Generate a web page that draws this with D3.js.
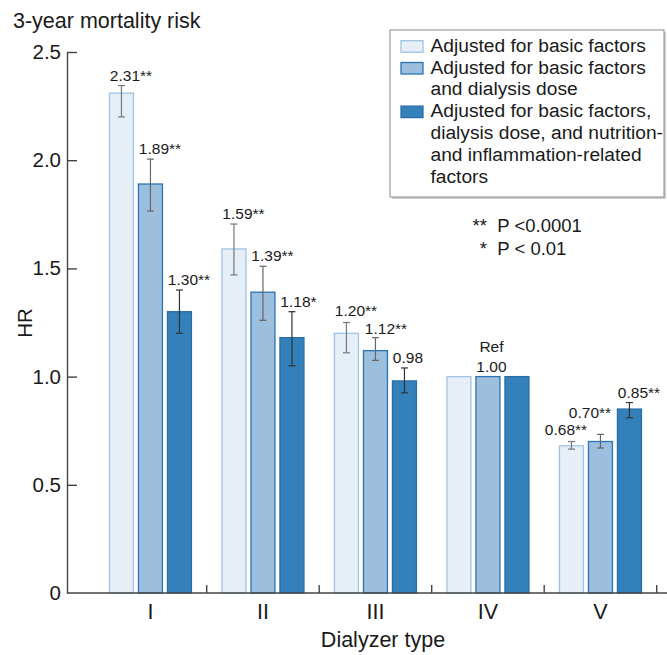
<!DOCTYPE html>
<html>
<head>
<meta charset="utf-8">
<script src="https://cdn.jsdelivr.net/npm/d3@7"></script>
<style>
  html, body { margin: 0; padding: 0; background: #fff; }
  svg { display: block; font-family: "Liberation Sans", Arial, sans-serif; }
  .axis path, .axis line { stroke: #444; stroke-width: 1.4; }
  .axis text { font-size: 20.5px; fill: #1a1a1a; }
  .axis .xl { font-size: 21.5px; }
</style>
</head>
<body>
<svg id="chart" width="667" height="655"></svg>
<script>
// ---------- data ----------
const dialyzerTypes = ["I", "II", "III", "IV", "V"];
const seriesNames = ["basic", "dose", "full"];
const legendLines = [
  ["Adjusted for basic factors"],
  ["Adjusted for basic factors", "and dialysis dose"],
  ["Adjusted for basic factors,", "dialysis dose, and nutrition-", "and inflammation-related", "factors"]
];
// hazard ratios per series, in dialyzer order
const hrBasic = [2.31, 1.59, 1.20, 1.00, 0.68];
const hrDose  = [1.89, 1.39, 1.12, 1.00, 0.70];
const hrFull  = [1.30, 1.18, 0.98, 1.00, 0.85];
// 95% CI bounds (IV is reference, no CI)
const ciLowBasic  = [2.20, 1.47, 1.11, null, 0.665];
const ciHighBasic = [2.345, 1.705, 1.25, null, 0.70];
const ciLowDose   = [1.765, 1.26, 1.075, null, 0.67];
const ciHighDose  = [2.005, 1.51, 1.18, null, 0.733];
const ciLowFull   = [1.20, 1.05, 0.925, null, 0.81];
const ciHighFull  = [1.40, 1.30, 1.04, null, 0.88];
// significance stars
const sigBasic = ["**", "**", "**", "", "**"];
const sigDose  = ["**", "**", "**", "", "**"];
const sigFull  = ["**", "*", "", "", "**"];
const yTicks = [0, 0.5, 1.0, 1.5, 2.0, 2.5];

// ---------- layout ----------
const W = 667, H = 655;
const svg = d3.select("#chart");

const x = d3.scaleBand().domain(dialyzerTypes).range([94.2, 656.7]).padding(0);
const y = d3.scaleLinear().domain([0, 2.5]).range([593, 52]);
const axisX = 67;

const BAR_W = 24, BAR_STEP = 29;
const LABEL_SIZE = 15.5;
const fills   = ["#e6eef7", "#9bbfdd", "#3380bb"];
const strokes = ["#9fc4e4", "#2c74b3", "#2a6ea8"];
const errCol  = ["#777", "#666", "#333"];

const hr  = [hrBasic, hrDose, hrFull];
const lo  = [ciLowBasic, ciLowDose, ciLowFull];
const hi  = [ciHighBasic, ciHighDose, ciHighFull];
const sig = [sigBasic, sigDose, sigFull];

const rows = [];
dialyzerTypes.forEach((t, i) => {
  seriesNames.forEach((s, j) => {
    rows.push({ type: t, i, j, v: hr[j][i], lo: lo[j][i], hi: hi[j][i], sig: sig[j][i] });
  });
});
const cx = (d) => x(d.type) + x.bandwidth() / 2 + (d.j - 1) * BAR_STEP;

// ---------- bars ----------
svg.append("g").selectAll("rect")
  .data(rows).enter().append("rect")
  .attr("x", (d) => cx(d) - BAR_W / 2)
  .attr("width", BAR_W)
  .attr("y", (d) => y(d.v))
  .attr("height", (d) => y(0) - y(d.v))
  .attr("fill", (d) => fills[d.j])
  .attr("stroke", (d) => strokes[d.j])
  .attr("stroke-width", 1.3);

// ---------- error bars ----------
const eb = svg.append("g").selectAll("g")
  .data(rows.filter((d) => d.lo != null)).enter().append("g")
  .attr("stroke", (d) => errCol[d.j])
  .attr("stroke-width", 1.2);
eb.append("line").attr("x1", cx).attr("x2", cx)
  .attr("y1", (d) => y(d.hi)).attr("y2", (d) => y(d.lo));
eb.append("line").attr("x1", (d) => cx(d) - 3.5).attr("x2", (d) => cx(d) + 3.5)
  .attr("y1", (d) => y(d.hi)).attr("y2", (d) => y(d.hi));
eb.append("line").attr("x1", (d) => cx(d) - 3.5).attr("x2", (d) => cx(d) + 3.5)
  .attr("y1", (d) => y(d.lo)).attr("y2", (d) => y(d.lo));

// ---------- value labels ----------
// small nudges so the crowded labels do not overlap
const nudge = { "III-0": [0, -2], "III-1": [1, 1], "V-0": [-15, -1.5], "V-1": [-20, -11] };
const labelRows = rows.filter((d) => d.type !== "IV");
const lab = svg.append("g").selectAll("g")
  .data(labelRows).enter().append("g")
  .attr("transform", (d) => {
    const n = nudge[d.type + "-" + d.j] || [0, 0];
    return `translate(${cx(d) + 3.5 + n[0]},${y(d.hi) - 5 + n[1]})`;
  });
lab.append("text")
  .attr("class", "num")
  .attr("text-anchor", "middle")
  .attr("font-size", LABEL_SIZE)
  .attr("fill", "#1a1a1a")
  .text((d) => d.v.toFixed(2));
lab.append("text")
  .attr("font-size", LABEL_SIZE)
  .attr("fill", "#1a1a1a")
  .attr("x", function () {
    return this.parentNode.querySelector(".num").getComputedTextLength() / 2;
  })
  .text((d) => d.sig);

// reference group label
const refX = x("IV") + x.bandwidth() / 2 + 3.5;
svg.append("text").attr("x", refX).attr("y", y(1) - 5)
  .attr("text-anchor", "middle").attr("font-size", LABEL_SIZE).attr("fill", "#1a1a1a")
  .text((1).toFixed(2));
svg.append("text").attr("x", refX).attr("y", y(1) - 25)
  .attr("text-anchor", "middle").attr("font-size", LABEL_SIZE).attr("fill", "#1a1a1a")
  .text("Ref");

// ---------- axes ----------
svg.append("g")
  .attr("class", "axis")
  .attr("transform", `translate(${axisX},0)`)
  .call(d3.axisLeft(y).tickValues(yTicks).tickSize(-10).tickSizeOuter(0).tickPadding(6)
    .tickFormat((d) => d === 0 ? "0" : d3.format(".1f")(d)))
  .call((g) => g.selectAll(".tick").filter((d) => d === 0).select("line").remove());

const xg = svg.append("g").attr("class", "axis");
xg.append("line").attr("x1", axisX).attr("x2", W).attr("y1", y(0)).attr("y2", y(0));
xg.selectAll(".bt").data(dialyzerTypes).enter().append("line")
  .attr("x1", (d) => x(d) + x.bandwidth()).attr("x2", (d) => x(d) + x.bandwidth())
  .attr("y1", y(0)).attr("y2", y(0) - 8);
xg.selectAll(".xl").data(dialyzerTypes).enter().append("text")
  .attr("class", "xl")
  .attr("x", (d) => x(d) + x.bandwidth() / 2)
  .attr("y", y(0) + 26)
  .attr("text-anchor", "middle")
  .text((d) => d);

svg.append("text").attr("x", 383).attr("y", 647).attr("text-anchor", "middle")
  .attr("font-size", 21.5).attr("fill", "#1a1a1a").text("Dialyzer type");
svg.append("text").attr("transform", "translate(32,323) rotate(-90)")
  .attr("text-anchor", "middle").attr("font-size", 20.5).attr("fill", "#1a1a1a").text("HR");
svg.append("text").attr("x", 13).attr("y", 28)
  .attr("font-size", 21.5).attr("fill", "#1a1a1a").text("3-year mortality risk");

// ---------- legend ----------
const lg = svg.append("g");
lg.append("rect").attr("x", 392).attr("y", 32).attr("width", 274).attr("height", 167)
  .attr("fill", "#cfcfcf");
lg.append("rect").attr("x", 390).attr("y", 30).attr("width", 274).attr("height", 167)
  .attr("fill", "#fff").attr("stroke", "#8a8a8a").attr("stroke-width", 1);
const LINE_H = 21.8;
let lineIdx = 0;
legendLines.forEach((lines, j) => {
  const base = 51.7 + lineIdx * LINE_H;
  lg.append("rect").attr("x", 401).attr("y", base - 11).attr("width", 22).attr("height", 11.5)
    .attr("fill", fills[j]).attr("stroke", strokes[j]).attr("stroke-width", 1.3);
  lines.forEach((t, k) => {
    lg.append("text").attr("x", 430.5).attr("y", base + k * LINE_H)
      .attr("font-size", 19.2).attr("fill", "#1a1a1a").text(t);
  });
  lineIdx += lines.length;
});

// p-value note
const notes = [["**", "P <0.0001"], ["*", "P < 0.01"]];
notes.forEach((n, k) => {
  const yy = 231.7 + k * 23.3;
  svg.append("text").attr("x", 487).attr("y", yy).attr("text-anchor", "end")
    .attr("font-size", 18.5).attr("fill", "#1a1a1a").text(n[0]);
  svg.append("text").attr("x", 497.3).attr("y", yy)
    .attr("font-size", 18.5).attr("fill", "#1a1a1a").text(n[1]);
});
</script>
</body>
</html>
